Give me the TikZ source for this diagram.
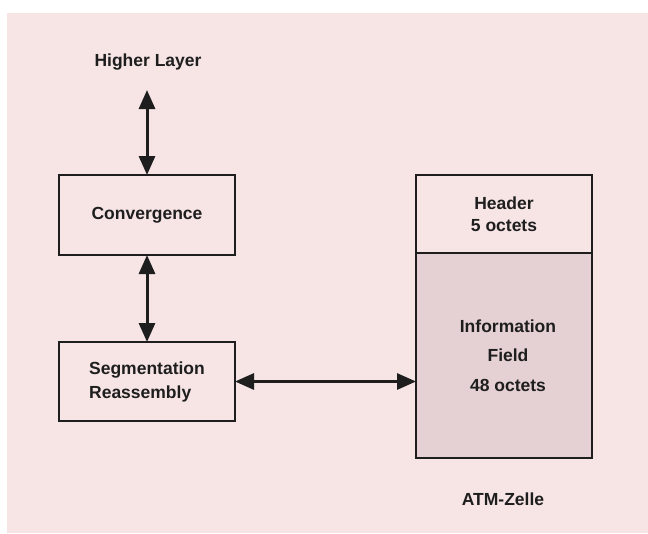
\documentclass[tikz,border=0pt]{standalone}
\usepackage{fontspec}
\setmainfont{Liberation Sans}
\usetikzlibrary{arrows.meta}
\definecolor{paper}{HTML}{F7E5E5}
\definecolor{ink}{HTML}{1E1E1E}
\definecolor{payload}{HTML}{E5D0D3}
\tikzset{
  lbl/.style={font=\fontsize{17.5}{22}\selectfont\bfseries, text=ink, inner sep=0pt},
  block/.style={draw=ink, line width=2.8pt, outer sep=0pt, inner sep=0pt,
    lbl, align=center},
  dbl/.style={draw=ink, line width=3pt,
    {Triangle[length=19pt,width=16pt]}-{Triangle[length=19pt,width=16pt]}}
}
\begin{document}
\begin{tikzpicture}[x=1pt,y=-1pt]
  % paper and its white scan margin
  \fill[white] (0,0) rectangle (648,533);
  \fill[paper] (7,13) rectangle (648,533);
  \useasboundingbox (0,0) rectangle (648,533);

  % protocol stack (left)
  \node[lbl] (hl) at (148,62) {Higher Layer};
  \coordinate (hlfoot) at (147,90);
  \node[block, minimum width=176pt, minimum height=80pt] (conv) at (147,215) {Convergence};
  \node[block, minimum width=176pt, minimum height=79pt,
        align=left, font=\fontsize{17.5}{24}\selectfont\bfseries] (seg) at (147,381.5)
        {Segmentation\\Reassembly};

  % ATM cell (right)
  \node[block, minimum width=176pt, minimum height=78pt] (hdr) at (504,214) {Header\\5 octets};
  \node[block, fill=payload, minimum width=176pt, minimum height=205pt,
        font=\fontsize{17.5}{29.5}\selectfont\bfseries] (info) at (504,355.5)
        {\hspace*{8pt}Information\\\hspace*{8pt}Field\\\hspace*{8pt}48 octets};
  \node[lbl] (atm) at (503,499) {ATM-Zelle};

  % connectors
  \draw[dbl] (hlfoot) -- (conv.north);
  \draw[dbl] (conv.south) -- (seg.north);
  \draw[dbl] (seg.east) -- (seg.east -| info.west);
\end{tikzpicture}
\end{document}
